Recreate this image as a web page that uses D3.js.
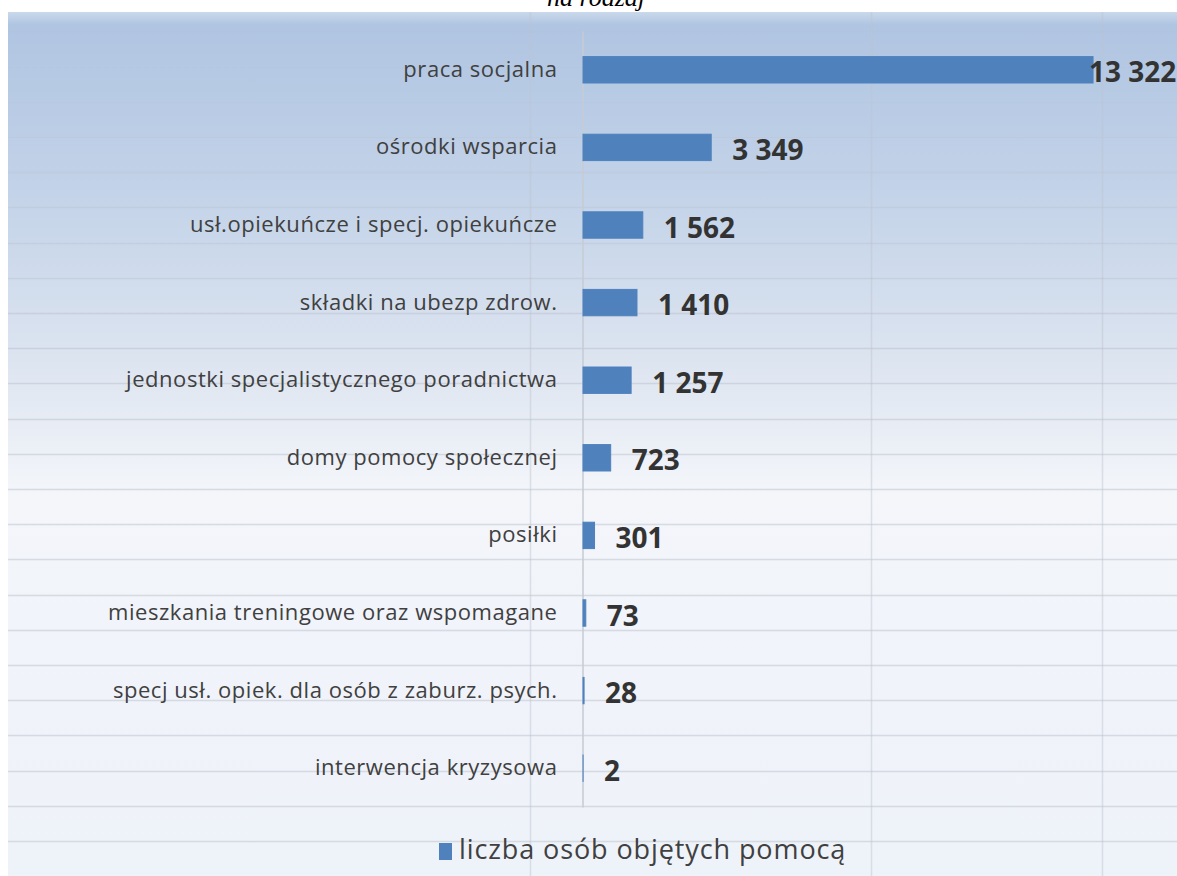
<!DOCTYPE html>
<html lang="pl">
<head>
<meta charset="utf-8">
<script src="https://cdn.jsdelivr.net/npm/d3@7"></script>
<style>
  html, body { margin: 0; padding: 0; background: #fff; overflow: hidden; }
  svg { display: block; }
</style>
</head>
<body>
<div id="chart"></div>
<script>
// kategorie pomocy i liczba osób
const categories = [
  "praca socjalna",
  "ośrodki wsparcia",
  "usł.opiekuńcze i specj. opiekuńcze",
  "składki na ubezp zdrow.",
  "jednostki specjalistycznego poradnictwa",
  "domy pomocy społecznej",
  "posiłki",
  "mieszkania treningowe oraz wspomagane",
  "specj usł. opiek. dla osób z zaburz. psych.",
  "interwencja kryzysowa"
];
const values = [13322, 3349, 1562, 1410, 1257, 723, 301, 73, 28, 2];
const seriesName = "liczba osób objętych pomocą";
const titleText = "na rodzaj";

const width = 1177, height = 876;
const barColor = "#4f81bd";

const pl = d3.formatLocale({ decimal: ",", thousands: " ", grouping: [3], currency: ["", " zł"] });
const fmt = pl.format(",");

const svg = d3.select("#chart").append("svg")
  .attr("width", width)
  .attr("height", height);

// tlo z gradientem
const grad = svg.append("defs").append("linearGradient")
  .attr("id", "bg")
  .attr("x1", 0).attr("y1", 0).attr("x2", 0).attr("y2", 1);
[
  [0, "#cad8ea"], [0.015, "#b0c5e2"], [0.2, "#c2d2e8"], [0.4, "#dce4f0"],
  [0.56, "#f4f6fa"], [0.7, "#f1f4fa"], [1, "#eef2f9"]
].forEach(s => grad.append("stop").attr("offset", s[0]).attr("stop-color", s[1]));

svg.append("rect")
  .attr("x", 8).attr("y", 12)
  .attr("width", width - 8).attr("height", height - 12)
  .attr("fill", "url(#bg)");

// linie arkusza pod wykresem
const fade = d3.scaleLinear().domain([30, 320]).range([0.12, 0.5]).clamp(true);
const sheet = svg.append("g").attr("class", "sheet");
sheet.selectAll("line.h")
  .data(d3.range(0, 24).map(k => 841 - 35.2 * k))
  .enter().append("line")
  .attr("class", "h")
  .attr("x1", 8).attr("x2", width)
  .attr("y1", d => Math.round(d) + 0.5).attr("y2", d => Math.round(d) + 0.5)
  .attr("stroke", "rgb(185,192,204)")
  .attr("stroke-opacity", d => fade(d))
  .attr("stroke-width", 1.5);
sheet.selectAll("line.v")
  .data([530, 871, 1102])
  .enter().append("line")
  .attr("class", "v")
  .attr("x1", d => d + 0.5).attr("x2", d => d + 0.5)
  .attr("y1", 12).attr("y2", height)
  .attr("stroke", "rgba(190,196,206,0.45)")
  .attr("stroke-width", 1.5);

// tytul (uciety u gory)
svg.append("text")
  .attr("x", 596).attr("y", 6)
  .attr("text-anchor", "middle")
  .attr("font-family", "'Liberation Serif', serif")
  .attr("font-style", "italic")
  .attr("font-size", 26)
  .attr("fill", "#000")
  .text(titleText);

// skale
const x = d3.scaleLinear()
  .domain([0, 14000])
  .range([583, 1119]);

const y = d3.scaleBand()
  .domain(categories)
  .range([31, 807])
  .paddingInner(0.66)
  .paddingOuter(0.33);

// os kategorii
const yAxis = svg.append("g")
  .attr("transform", `translate(${x(0) - 0.5},0)`)
  .call(d3.axisLeft(y).tickSize(0).tickPadding(25));
yAxis.select(".domain")
  .attr("stroke", "#c6cbd3")
  .attr("stroke-width", 1.5);
yAxis.selectAll(".tick text")
  .attr("font-family", "'Open Sans', sans-serif")
  .attr("font-size", 22)
  .attr("letter-spacing", "0.55px")
  .attr("fill", "#404040");

// slupki
svg.append("g").selectAll("rect")
  .data(values)
  .enter().append("rect")
  .attr("x", x(0))
  .attr("y", (d, i) => y(categories[i]))
  .attr("width", d => x(d) - x(0))
  .attr("height", y.bandwidth())
  .attr("fill", barColor)
  .attr("stroke", barColor)
  .attr("stroke-width", 1);

// etykiety wartosci
svg.append("g").selectAll("text")
  .data(values)
  .enter().append("text")
  .attr("x", d => Math.min(x(d) + 21, width - 88))
  .attr("y", (d, i) => y(categories[i]) + y.bandwidth() / 2)
  .attr("dy", "0.45em")
  .attr("font-family", "'Open Sans', sans-serif")
  .attr("font-weight", "bold")
  .attr("font-size", 28)
  .attr("fill", "#333")
  .text(d => fmt(d));

// legenda
const legend = svg.append("g").attr("transform", "translate(439,843)");
legend.append("rect")
  .attr("width", 13).attr("height", 17)
  .attr("fill", barColor);
legend.append("text")
  .attr("x", 20).attr("y", 16)
  .attr("font-family", "'Open Sans', sans-serif")
  .attr("font-size", 27)
  .attr("letter-spacing", "0.9px")
  .attr("fill", "#404040")
  .text(seriesName);
</script>
</body>
</html>
